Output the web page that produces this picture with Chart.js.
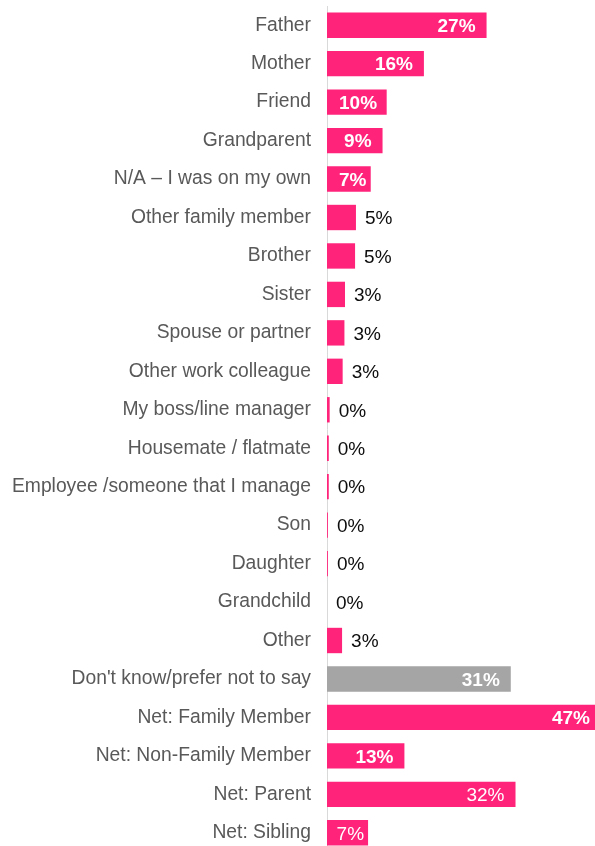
<!DOCTYPE html>
<html>
<head>
<meta charset="utf-8">
<script src="https://cdn.jsdelivr.net/npm/chart.js@4.4.1/dist/chart.umd.min.js"></script>
<style>
  html, body { margin: 0; padding: 0; background: #ffffff; overflow: hidden; }
  #wrap { position: relative; width: 595px; height: 852px; }
</style>
</head>
<body>
<div id="wrap"><canvas id="chart" width="595" height="852"></canvas></div>
<script>
// Who the respondent was with
const categories = [
  'Father', 'Mother', 'Friend', 'Grandparent', 'N/A \u2013 I was on my own',
  'Other family member', 'Brother', 'Sister', 'Spouse or partner',
  'Other work colleague', 'My boss/line manager', 'Housemate / flatmate',
  'Employee /someone that I manage', 'Son', 'Daughter', 'Grandchild', 'Other',
  "Don't know/prefer not to say", 'Net: Family Member',
  'Net: Non-Family Member', 'Net: Parent', 'Net: Sibling'
];

// Share of respondents, percent
const values = [
  27.0, 16.4, 10.1, 9.4, 7.4,
  4.9, 4.75, 3.05, 2.95,
  2.65, 0.45, 0.3,
  0.3, 0.15, 0.15, 0, 2.55,
  31.1, 47.2,
  13.1, 31.9, 6.95
];

const PINK = '#FF237A';
const GREY = '#A5A5A5';
const greyRows = new Set(["Don't know/prefer not to say"]);
const plainInsideRows = new Set(['Net: Parent', 'Net: Sibling']);
const FONT = '"Liberation Sans", Arial, sans-serif';

const valueLabels = {
  id: 'valueLabels',
  afterDatasetsDraw(chart) {
    const ctx = chart.ctx;
    const area = chart.chartArea;
    const meta = chart.getDatasetMeta(0);
    ctx.save();
    ctx.textBaseline = 'middle';
    meta.data.forEach((bar, i) => {
      const v = values[i];
      const text = Math.round(v) + '%';
      const y = bar.y + 1.5;
      if (v >= 6) {
        ctx.font = (plainInsideRows.has(categories[i]) ? 'normal ' : 'bold ') + '19px ' + FONT;
        const w = ctx.measureText(text).width;
        // inside-end, but kept a little clear of the axis on short bars
        let right = Math.min(bar.x - 11, area.right - 5);
        right = Math.max(right, Math.min(bar.x - 4, area.left + 12 + w));
        ctx.fillStyle = '#ffffff';
        ctx.textAlign = 'right';
        ctx.fillText(text, right, y);
      } else {
        ctx.font = 'normal 19px ' + FONT;
        ctx.fillStyle = '#0d0d0d';
        ctx.textAlign = 'left';
        ctx.fillText(text, bar.x + 9, y);
      }
    });
    ctx.restore();
  }
};

new Chart(document.getElementById('chart'), {
  type: 'bar',
  data: {
    labels: categories,
    datasets: [{
      data: values,
      backgroundColor: categories.map(c => greyRows.has(c) ? GREY : PINK),
      borderWidth: 0,
      barPercentage: 0.66,
      categoryPercentage: 1.0
    }]
  },
  options: {
    indexAxis: 'y',
    responsive: false,
    animation: false,
    devicePixelRatio: 1,
    layout: { padding: { top: 6, bottom: 0, left: 0, right: 0 } },
    plugins: {
      legend: { display: false },
      tooltip: { enabled: false }
    },
    scales: {
      x: {
        display: false,
        min: 0,
        max: 45.35
      },
      y: {
        afterFit(scale) {
          scale.width = 327;
          scale.paddingTop = 0;
          scale.paddingBottom = 0;
        },
        grid: { display: false, drawTicks: false },
        border: { display: true, color: '#D9D9D9', width: 1 },
        ticks: {
          padding: 16,
          color: '#595959',
          font: { family: FONT, size: 19.3 },
          autoSkip: false
        }
      }
    }
  },
  plugins: [valueLabels]
});
</script>
</body>
</html>
